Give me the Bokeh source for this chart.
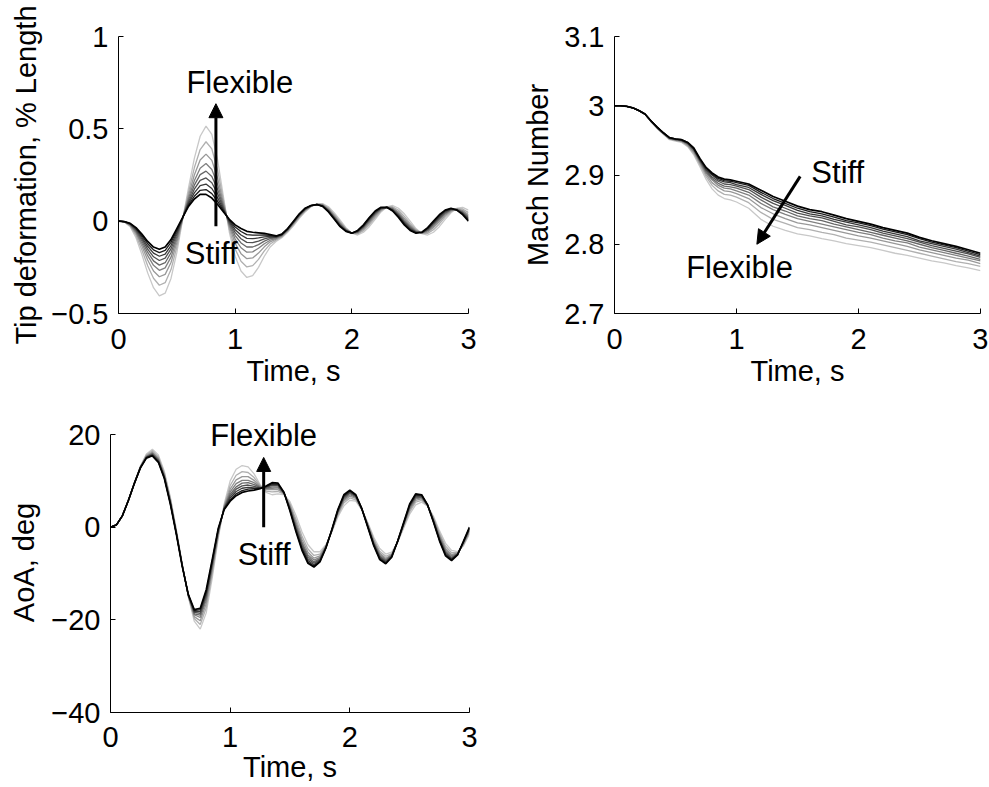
from bokeh.plotting import figure
from bokeh.layouts import column, row
from bokeh.models import Range1d, FixedTicker, Arrow, NormalHead, Label
from bokeh.embed import file_html
from bokeh.resources import INLINE

FONT = "Liberation Sans"

# ---------------- data ----------------
# sample times (s)
time_fine = [i / 20 for i in range(61)]   # 0.00 .. 3.00 every 0.05 s
time_mach = [0.0, 0.05, 0.1, 0.15, 0.2, 0.25, 0.3, 0.35, 0.4, 0.45,
             0.5, 0.55, 0.6, 0.65, 0.7, 0.75, 0.8, 0.85, 0.9, 0.95,
             1.0, 1.1, 1.2, 1.3, 1.4, 1.5, 1.6, 1.7, 1.8, 1.9,
             2.0, 2.1, 2.2, 2.3, 2.4, 2.5, 2.6, 2.7, 2.8, 2.9, 3.0]

# Tip deformation, % length: 9 stiffness cases, flexible (k0) -> stiff (k8)
tip_k0 = [0, -0.005, -0.030, -0.090, -0.180, -0.280, -0.360, -0.405, -0.390, -0.310,
          -0.170, 0.010, 0.180, 0.340, 0.460, 0.515, 0.470, 0.330, 0.130, -0.060,
          -0.190, -0.270, -0.305, -0.295, -0.250, -0.190, -0.140, -0.110, -0.090, -0.060,
          -0.025, 0.015, 0.050, 0.078, 0.093, 0.095, 0.078, 0.045, 0.005, -0.035,
          -0.065, -0.075, -0.060, -0.030, 0.010, 0.050, 0.077, 0.085, 0.070, 0.040,
          0.000, -0.040, -0.068, -0.075, -0.060, -0.030, 0.010, 0.045, 0.070, 0.075,
          0.060]
tip_k1 = [0, -0.004, -0.026, -0.077, -0.155, -0.241, -0.309, -0.347, -0.333, -0.262,
          -0.140, 0.012, 0.157, 0.289, 0.388, 0.430, 0.391, 0.275, 0.112, -0.044,
          -0.151, -0.217, -0.248, -0.241, -0.207, -0.161, -0.124, -0.103, -0.085, -0.055,
          -0.019, 0.021, 0.055, 0.080, 0.092, 0.092, 0.072, 0.037, -0.003, -0.040,
          -0.065, -0.069, -0.051, -0.019, 0.020, 0.056, 0.077, 0.078, 0.059, 0.026,
          -0.012, -0.046, -0.066, -0.066, -0.046, -0.015, 0.022, 0.051, 0.068, 0.066,
          0.046]
tip_k2 = [0, -0.004, -0.023, -0.067, -0.135, -0.210, -0.270, -0.301, -0.288, -0.224,
          -0.117, 0.014, 0.139, 0.250, 0.331, 0.363, 0.329, 0.232, 0.097, -0.031,
          -0.120, -0.176, -0.203, -0.199, -0.173, -0.139, -0.112, -0.098, -0.082, -0.052,
          -0.015, 0.025, 0.058, 0.081, 0.092, 0.089, 0.067, 0.031, -0.009, -0.043,
          -0.065, -0.065, -0.044, -0.010, 0.028, 0.060, 0.076, 0.073, 0.050, 0.015,
          -0.021, -0.050, -0.065, -0.059, -0.035, -0.003, 0.031, 0.055, 0.066, 0.059,
          0.035]
tip_k3 = [0, -0.003, -0.020, -0.060, -0.120, -0.187, -0.239, -0.266, -0.253, -0.195,
          -0.099, 0.016, 0.125, 0.219, 0.287, 0.312, 0.280, 0.198, 0.086, -0.022,
          -0.097, -0.144, -0.168, -0.166, -0.147, -0.122, -0.103, -0.094, -0.079, -0.049,
          -0.011, 0.029, 0.061, 0.082, 0.091, 0.087, 0.063, 0.026, -0.014, -0.046,
          -0.065, -0.061, -0.038, -0.003, 0.035, 0.064, 0.076, 0.069, 0.043, 0.007,
          -0.028, -0.054, -0.064, -0.053, -0.027, 0.006, 0.038, 0.059, 0.065, 0.053,
          0.027]
tip_k4 = [0, -0.003, -0.018, -0.054, -0.107, -0.168, -0.215, -0.238, -0.225, -0.171,
          -0.084, 0.017, 0.114, 0.195, 0.252, 0.271, 0.242, 0.172, 0.077, -0.014,
          -0.078, -0.118, -0.140, -0.140, -0.127, -0.108, -0.095, -0.090, -0.077, -0.047,
          -0.009, 0.032, 0.063, 0.083, 0.091, 0.085, 0.060, 0.022, -0.018, -0.048,
          -0.065, -0.059, -0.034, 0.003, 0.040, 0.067, 0.076, 0.065, 0.037, 0.000,
          -0.033, -0.057, -0.063, -0.049, -0.020, 0.013, 0.043, 0.062, 0.063, 0.049,
          0.020]
tip_k5 = [0, -0.003, -0.016, -0.048, -0.096, -0.151, -0.193, -0.213, -0.200, -0.150,
          -0.071, 0.018, 0.104, 0.173, 0.221, 0.234, 0.208, 0.148, 0.069, -0.007,
          -0.061, -0.095, -0.115, -0.116, -0.108, -0.096, -0.088, -0.087, -0.075, -0.045,
          -0.006, 0.034, 0.065, 0.083, 0.091, 0.084, 0.057, 0.018, -0.022, -0.050,
          -0.065, -0.056, -0.030, 0.008, 0.044, 0.069, 0.075, 0.062, 0.032, -0.006,
          -0.038, -0.059, -0.062, -0.045, -0.014, 0.019, 0.048, 0.064, 0.062, 0.045,
          0.014]
tip_k6 = [0, -0.002, -0.015, -0.043, -0.087, -0.136, -0.173, -0.190, -0.178, -0.132,
          -0.060, 0.019, 0.095, 0.153, 0.192, 0.201, 0.177, 0.126, 0.062, -0.001,
          -0.046, -0.075, -0.093, -0.095, -0.091, -0.085, -0.082, -0.085, -0.073, -0.043,
          -0.004, 0.036, 0.067, 0.084, 0.090, 0.082, 0.054, 0.015, -0.025, -0.052,
          -0.065, -0.054, -0.026, 0.013, 0.048, 0.071, 0.075, 0.060, 0.028, -0.011,
          -0.043, -0.061, -0.061, -0.041, -0.009, 0.025, 0.053, 0.066, 0.062, 0.041,
          0.009]
tip_k7 = [0, -0.002, -0.013, -0.039, -0.078, -0.122, -0.155, -0.170, -0.158, -0.115,
          -0.049, 0.019, 0.087, 0.135, 0.167, 0.171, 0.149, 0.107, 0.056, 0.005,
          -0.032, -0.056, -0.073, -0.076, -0.076, -0.075, -0.077, -0.082, -0.071, -0.041,
          -0.002, 0.038, 0.069, 0.085, 0.090, 0.081, 0.052, 0.012, -0.028, -0.054,
          -0.065, -0.052, -0.023, 0.017, 0.052, 0.073, 0.075, 0.057, 0.024, -0.016,
          -0.047, -0.063, -0.061, -0.038, -0.004, 0.030, 0.057, 0.068, 0.061, 0.038,
          0.004]
tip_k8 = [0, -0.002, -0.012, -0.035, -0.070, -0.110, -0.140, -0.152, -0.140, -0.100,
          -0.040, 0.020, 0.080, 0.120, 0.145, 0.145, 0.125, 0.090, 0.050, 0.010,
          -0.020, -0.040, -0.055, -0.060, -0.063, -0.066, -0.072, -0.080, -0.070, -0.040,
          0.000, 0.040, 0.070, 0.085, 0.090, 0.080, 0.050, 0.010, -0.030, -0.055,
          -0.065, -0.050, -0.020, 0.020, 0.055, 0.075, 0.075, 0.055, 0.020, -0.020,
          -0.050, -0.065, -0.060, -0.035, 0.000, 0.035, 0.060, 0.070, 0.060, 0.035,
          0.000]

# Mach number (0.05 s steps to 1.0 s, then 0.1 s steps)
mach_k0 = [3.000, 3.000, 2.999, 2.997, 2.993, 2.988, 2.977, 2.967, 2.959, 2.951,
           2.949, 2.947, 2.941, 2.929, 2.912, 2.894, 2.880, 2.871, 2.866, 2.864,
           2.861, 2.852, 2.836, 2.826, 2.820, 2.815, 2.812, 2.808, 2.805, 2.801,
           2.798, 2.795, 2.791, 2.787, 2.784, 2.780, 2.776, 2.773, 2.769, 2.766, 2.762]
mach_k1 = [3.000, 3.000, 2.999, 2.997, 2.993, 2.988, 2.977, 2.967, 2.959, 2.952,
           2.950, 2.948, 2.942, 2.931, 2.915, 2.898, 2.885, 2.877, 2.872, 2.871,
           2.868, 2.860, 2.846, 2.836, 2.830, 2.824, 2.821, 2.817, 2.814, 2.809,
           2.806, 2.803, 2.799, 2.795, 2.791, 2.787, 2.783, 2.779, 2.775, 2.772, 2.768]
mach_k2 = [3.000, 3.000, 2.999, 2.997, 2.993, 2.988, 2.977, 2.968, 2.960, 2.952,
           2.950, 2.949, 2.943, 2.933, 2.917, 2.901, 2.889, 2.882, 2.877, 2.876,
           2.873, 2.866, 2.853, 2.844, 2.837, 2.831, 2.828, 2.824, 2.820, 2.816,
           2.812, 2.809, 2.805, 2.801, 2.797, 2.792, 2.788, 2.784, 2.780, 2.777, 2.772]
mach_k3 = [3.000, 3.000, 2.999, 2.997, 2.993, 2.988, 2.977, 2.968, 2.960, 2.953,
           2.951, 2.949, 2.944, 2.934, 2.919, 2.903, 2.893, 2.885, 2.881, 2.880,
           2.877, 2.871, 2.859, 2.850, 2.843, 2.837, 2.833, 2.829, 2.825, 2.821,
           2.817, 2.814, 2.809, 2.805, 2.802, 2.796, 2.792, 2.788, 2.784, 2.780, 2.776]
mach_k4 = [3.000, 3.000, 2.999, 2.997, 2.993, 2.988, 2.978, 2.968, 2.960, 2.953,
           2.951, 2.950, 2.945, 2.936, 2.920, 2.905, 2.895, 2.888, 2.884, 2.883,
           2.881, 2.875, 2.864, 2.854, 2.848, 2.841, 2.837, 2.834, 2.829, 2.825,
           2.821, 2.817, 2.813, 2.809, 2.805, 2.800, 2.795, 2.791, 2.787, 2.783, 2.778]
mach_k5 = [3.000, 3.000, 2.999, 2.997, 2.993, 2.988, 2.978, 2.969, 2.961, 2.953,
           2.951, 2.950, 2.946, 2.937, 2.921, 2.907, 2.897, 2.891, 2.887, 2.886,
           2.884, 2.879, 2.868, 2.859, 2.852, 2.845, 2.841, 2.838, 2.833, 2.828,
           2.825, 2.821, 2.816, 2.812, 2.808, 2.803, 2.798, 2.794, 2.790, 2.786, 2.781]
mach_k6 = [3.000, 3.000, 2.999, 2.997, 2.993, 2.988, 2.978, 2.969, 2.961, 2.954,
           2.952, 2.950, 2.946, 2.937, 2.922, 2.908, 2.900, 2.893, 2.890, 2.889,
           2.886, 2.882, 2.872, 2.863, 2.856, 2.849, 2.844, 2.841, 2.836, 2.832,
           2.828, 2.824, 2.819, 2.815, 2.811, 2.805, 2.801, 2.797, 2.793, 2.788, 2.783]
mach_k7 = [3.000, 3.000, 2.999, 2.997, 2.993, 2.988, 2.978, 2.969, 2.961, 2.954,
           2.952, 2.951, 2.947, 2.938, 2.923, 2.910, 2.901, 2.895, 2.892, 2.891,
           2.889, 2.885, 2.875, 2.866, 2.859, 2.852, 2.847, 2.844, 2.839, 2.834,
           2.831, 2.827, 2.822, 2.818, 2.814, 2.808, 2.803, 2.799, 2.795, 2.790, 2.785]
mach_k8 = [3.000, 3.000, 2.999, 2.997, 2.993, 2.988, 2.978, 2.969, 2.961, 2.954,
           2.952, 2.951, 2.947, 2.939, 2.924, 2.911, 2.903, 2.897, 2.894, 2.893,
           2.891, 2.887, 2.878, 2.869, 2.862, 2.855, 2.850, 2.847, 2.842, 2.837,
           2.833, 2.829, 2.824, 2.820, 2.816, 2.810, 2.805, 2.801, 2.797, 2.792, 2.787]

# Angle of attack, deg
aoa_k0 = [0, 0.5, 2.5, 5.8, 9.6, 13.2, 15.8, 16.8, 15.6, 12.0,
          6.5, -0.5, -8.0, -15.0, -20.3, -22.0, -18.5, -11.0, -2.5, 5.0,
          10.0, 12.5, 13.3, 13.0, 11.5, 9.2, 7.5, 7.0, 7.2, 7.0,
          5.5, 2.5, -1.0, -3.8, -5.3, -5.3, -3.8, -1.0, 2.2, 4.6,
          5.8, 5.6, 3.8, 1.0, -2.2, -4.6, -5.8, -5.4, -3.2, -0.2,
          2.8, 4.8, 5.4, 4.5, 2.3, -0.8, -3.5, -5.0, -5.3, -4.0,
          -1.5]
aoa_k1 = [0, 0.5, 2.5, 5.8, 9.6, 13.1, 15.6, 16.5, 15.2, 11.7,
          6.2, -0.7, -8.1, -14.9, -19.7, -21.0, -17.4, -10.1, -2.0, 4.7,
          9.0, 11.2, 12.0, 11.8, 10.7, 9.0, 7.8, 7.6, 7.7, 7.1,
          5.0, 1.7, -1.9, -4.7, -6.1, -5.8, -4.0, -0.9, 2.6, 5.2,
          6.3, 5.9, 3.8, 0.8, -2.6, -5.2, -6.3, -5.7, -3.2, 0.1,
          3.3, 5.4, 5.8, 4.6, 2.0, -1.3, -4.1, -5.5, -5.5, -3.8,
          -1.2]
aoa_k2 = [0, 0.5, 2.5, 5.8, 9.6, 13.0, 15.4, 16.2, 14.9, 11.4,
          5.9, -0.9, -8.2, -14.8, -19.3, -20.2, -16.5, -9.4, -1.6, 4.5,
          8.2, 10.2, 10.9, 10.9, 10.1, 8.8, 8.1, 8.1, 8.1, 7.2,
          4.7, 1.1, -2.6, -5.4, -6.7, -6.2, -4.1, -0.8, 2.9, 5.6,
          6.7, 6.2, 3.9, 0.6, -2.9, -5.6, -6.7, -5.9, -3.1, 0.3,
          3.7, 5.8, 6.1, 4.6, 1.8, -1.7, -4.6, -5.9, -5.6, -3.6,
          -0.9]
aoa_k3 = [0, 0.5, 2.5, 5.8, 9.5, 13.0, 15.3, 16.0, 14.7, 11.2,
          5.7, -1.1, -8.3, -14.7, -18.9, -19.5, -15.8, -8.8, -1.3, 4.3,
          7.6, 9.4, 10.1, 10.1, 9.6, 8.7, 8.3, 8.4, 8.5, 7.3,
          4.4, 0.6, -3.2, -6.0, -7.1, -6.5, -4.2, -0.7, 3.1, 5.9,
          7.0, 6.4, 3.9, 0.5, -3.2, -5.9, -7.0, -6.0, -3.1, 0.5,
          4.0, 6.1, 6.3, 4.7, 1.6, -2.0, -5.0, -6.2, -5.7, -3.5,
          -0.7]
aoa_k4 = [0, 0.5, 2.5, 5.8, 9.5, 12.9, 15.2, 15.9, 14.5, 11.0,
          5.5, -1.2, -8.3, -14.7, -18.7, -19.0, -15.2, -8.4, -1.1, 4.2,
          7.1, 8.7, 9.5, 9.6, 9.2, 8.6, 8.4, 8.7, 8.7, 7.3,
          4.2, 0.2, -3.6, -6.4, -7.5, -6.8, -4.3, -0.7, 3.3, 6.2,
          7.3, 6.5, 3.9, 0.3, -3.4, -6.2, -7.2, -6.1, -3.1, 0.6,
          4.3, 6.4, 6.5, 4.7, 1.4, -2.3, -5.3, -6.5, -5.8, -3.3,
          -0.5]
aoa_k5 = [0, 0.5, 2.5, 5.8, 9.5, 12.9, 15.1, 15.7, 14.4, 10.9,
          5.4, -1.3, -8.4, -14.6, -18.4, -18.6, -14.7, -8.0, -0.8, 4.1,
          6.7, 8.2, 8.9, 9.1, 8.8, 8.5, 8.6, 9.0, 9.0, 7.4,
          4.0, -0.2, -4.0, -6.8, -7.8, -7.0, -4.3, -0.6, 3.4, 6.4,
          7.5, 6.7, 4.0, 0.2, -3.6, -6.4, -7.4, -6.2, -3.0, 0.7,
          4.5, 6.6, 6.6, 4.7, 1.3, -2.5, -5.6, -6.7, -5.8, -3.2,
          -0.4]
aoa_k6 = [0, 0.5, 2.5, 5.8, 9.5, 12.9, 15.0, 15.6, 14.2, 10.7,
          5.2, -1.4, -8.4, -14.6, -18.2, -18.2, -14.3, -7.6, -0.6, 4.0,
          6.3, 7.7, 8.4, 8.6, 8.5, 8.4, 8.7, 9.2, 9.2, 7.4,
          3.8, -0.5, -4.4, -7.2, -8.1, -7.2, -4.4, -0.6, 3.6, 6.6,
          7.7, 6.8, 4.0, 0.2, -3.7, -6.6, -7.6, -6.3, -3.0, 0.8,
          4.7, 6.8, 6.8, 4.8, 1.2, -2.7, -5.8, -6.9, -5.9, -3.2,
          -0.2]
aoa_k7 = [0, 0.5, 2.5, 5.8, 9.5, 12.8, 15.0, 15.5, 14.1, 10.6,
          5.1, -1.4, -8.5, -14.5, -18.0, -17.8, -13.9, -7.3, -0.5, 3.9,
          5.9, 7.2, 7.9, 8.2, 8.3, 8.4, 8.8, 9.4, 9.3, 7.5,
          3.6, -0.8, -4.7, -7.5, -8.4, -7.4, -4.5, -0.5, 3.7, 6.8,
          7.8, 6.9, 4.0, 0.1, -3.9, -6.8, -7.8, -6.4, -3.0, 0.9,
          4.8, 7.0, 6.9, 4.8, 1.1, -2.9, -6.0, -7.0, -6.0, -3.1,
          -0.1]
aoa_k8 = [0, 0.5, 2.5, 5.8, 9.5, 12.8, 14.9, 15.4, 14.0, 10.5,
          5.0, -1.5, -8.5, -14.5, -17.8, -17.5, -13.5, -7.0, -0.3, 3.8,
          5.6, 6.8, 7.5, 7.8, 8.0, 8.3, 8.9, 9.6, 9.5, 7.5,
          3.5, -1.0, -5.0, -7.8, -8.6, -7.5, -4.5, -0.5, 3.8, 7.0,
          8.0, 7.0, 4.0, 0.0, -4.0, -7.0, -7.9, -6.5, -3.0, 1.0,
          5.0, 7.2, 7.0, 4.8, 1.0, -3.0, -6.2, -7.2, -6.0, -3.0,
          0.0]

tip_series = [tip_k0, tip_k1, tip_k2, tip_k3, tip_k4, tip_k5, tip_k6, tip_k7, tip_k8]
mach_series = [mach_k0, mach_k1, mach_k2, mach_k3, mach_k4, mach_k5, mach_k6, mach_k7, mach_k8]
aoa_series = [aoa_k0, aoa_k1, aoa_k2, aoa_k3, aoa_k4, aoa_k5, aoa_k6, aoa_k7, aoa_k8]

x_ticks = [0, 1, 2, 3]
tip_ticks = [-0.5, 0, 0.5, 1]
tip_tick_labels = ["\u22120.5", "0", "0.5", "1"]
mach_ticks = [2.7, 2.8, 2.9, 3.0, 3.1]
mach_tick_labels = ["2.7", "2.8", "2.9", "3", "3.1"]
aoa_ticks = [-40, -20, 0, 20]
aoa_tick_labels = ["\u221240", "\u221220", "0", "20"]

# ---------------- styling ----------------
shades = ["#c8c8c8", "#b0b0b0", "#989898", "#808080", "#686868",
          "#505050", "#383838", "#1c1c1c", "#000000"]
TICK_SIZE = "29px"
LABEL_SIZE = "29px"
NOTE_SIZE = "31px"


def make_fig(fw, fh, bl, br, bt, bb, yr):
    p = figure(frame_width=fw, frame_height=fh,
               min_border_left=bl, min_border_right=br,
               min_border_top=bt, min_border_bottom=bb,
               x_range=Range1d(0, 3), y_range=Range1d(*yr),
               output_backend="svg", toolbar_location=None, title=None)
    p.outline_line_color = None
    p.grid.visible = False
    p.background_fill_color = "white"
    p.border_fill_color = "white"
    return p


def style_axes(p, yticks, ylabels, ylabel, ylabel_standoff, ybounds,
               xlab_standoff=15, xaxis_standoff=3):
    p.xaxis.ticker = FixedTicker(ticks=x_ticks)
    p.xaxis.major_label_overrides = {t: str(t) for t in x_ticks}
    p.yaxis.ticker = FixedTicker(ticks=yticks)
    p.yaxis.major_label_overrides = dict(zip(yticks, ylabels))
    p.yaxis.bounds = ybounds
    p.xaxis.axis_label = "Time, s"
    p.yaxis.axis_label = ylabel
    for ax in (p.xaxis[0], p.yaxis[0]):
        ax.major_tick_in = 5
        ax.major_tick_out = 0
        ax.minor_tick_line_color = None
        ax.axis_line_color = "black"
        ax.axis_line_width = 1
        ax.major_tick_line_color = "black"
        ax.major_label_text_font = FONT
        ax.major_label_text_font_size = TICK_SIZE
        ax.major_label_text_color = "black"
        ax.axis_label_text_font = FONT
        ax.axis_label_text_font_size = LABEL_SIZE
        ax.axis_label_text_font_style = "normal"
        ax.axis_label_text_color = "black"
    p.xaxis.major_label_standoff = xlab_standoff
    p.xaxis.axis_label_standoff = xaxis_standoff
    p.yaxis.major_label_standoff = 10
    p.yaxis.axis_label_standoff = ylabel_standoff


def draw_lines(p, t, series):
    for k, ys in enumerate(series):
        p.line(t, ys, line_color=shades[k], line_width=1.7 if k == len(series) - 1 else 1.3)


def annotate(p, txt, x, y):
    p.add_layout(Label(x=x, y=y, text=txt, text_align="center", text_baseline="middle",
                       text_font=FONT, text_font_size=NOTE_SIZE, text_color="black"))


def arrow(p, x0, y0, x1, y1):
    p.add_layout(Arrow(end=NormalHead(size=14, fill_color="black", line_color="black"),
                       x_start=x0, y_start=y0, x_end=x1, y_end=y1,
                       line_color="black", line_width=3))


# Top-left: tip deformation
p1 = make_fig(350, 277, 118, 10, 36, 77, (-0.5, 1))
draw_lines(p1, time_fine, tip_series)
style_axes(p1, tip_ticks, tip_tick_labels, "Tip deformation, % Length", 6, (-0.5, 1))
arrow(p1, 0.835, -0.027, 0.835, 0.636)
annotate(p1, "Flexible", 1.04, 0.75)
annotate(p1, "Stiff", 0.795, -0.177)

# Top-right: Mach number
p2 = make_fig(366, 277, 136, 8, 36, 77, (2.7, 3.1))
draw_lines(p2, time_mach, mach_series)
style_axes(p2, mach_ticks, mach_tick_labels, "Mach Number", 7, (2.7, 3.1))
arrow(p2, 1.522, 2.898, 1.167, 2.800)
annotate(p2, "Stiff", 1.83, 2.9036)
annotate(p2, "Flexible", 1.025, 2.7665)

# Bottom-left: angle of attack (frame extends above 20 so the note fits; axis stops at 20)
p3 = make_fig(359, 300, 110, 10, 22, 74, (-40, 24.75))
draw_lines(p3, time_fine, aoa_series)
style_axes(p3, aoa_ticks, aoa_tick_labels, "AoA, deg", 8, (-40, 20),
           xlab_standoff=14, xaxis_standoff=1)
arrow(p3, 1.28, 0.0, 1.28, 15.05)
annotate(p3, "Flexible", 1.28, 19.7)
annotate(p3, "Stiff", 1.285, -5.8)

layout = column(row(p1, p2), p3)

with open("out.html", "w") as f:
    f.write(file_html(layout, INLINE))
